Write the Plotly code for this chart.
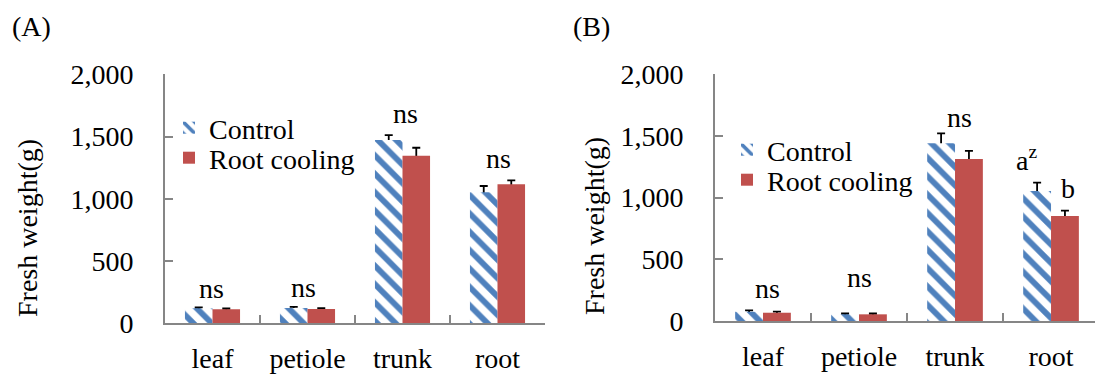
import plotly.graph_objects as go

# ---------------- data ----------------
categories = ["leaf", "petiole", "trunk", "root"]
y_ticks = [0, 500, 1000, 1500, 2000]

a_control = [120, 122, 1472, 1052]
a_control_err = [8, 10, 40, 51]
a_cooling = [112, 115, 1346, 1116]
a_cooling_err = [8, 6, 64, 32]

b_control = [75, 54, 1439, 1053]
b_control_err = [11, 8, 81, 67]
b_cooling = [67, 54, 1312, 850]
b_cooling_err = [9, 8, 65, 44]

series_names = ["Control", "Root cooling"]
panel_titles = ["(A)", "(B)"]
y_title = "Fresh weight(g)"

# significance labels: (category, which series it sits over, text, pixel lift, x shift)
a_sig = [("leaf", None, "ns", 19, -1), ("petiole", None, "ns", 19, -4),
         ("trunk", None, "ns", 22, 3), ("root", None, "ns", 22, 1)]
b_sig = [("leaf", None, "ns", 22, 4), ("petiole", None, "ns", 36, 0),
         ("trunk", None, "ns", 16, 4), ("root", 0, "a<sup>z</sup>", 24, -11),
         ("root", 1, "b", 22, 3)]

# ---------------- style ----------------
BLUE = "#4F81BD"
RED = "#C0504D"
AXIS = "#868686"
FONT = "'Liberation Serif', 'DejaVu Serif', 'Times New Roman', serif"
FS = 28
W, H = 1095, 374

fig = go.Figure()

panels = [
    dict(ctrl=a_control, ce=a_control_err, cool=a_cooling, cle=a_cooling_err,
         xa="x", ya="y", legs=("legend", "legend2"), sig=a_sig),
    dict(ctrl=b_control, ce=b_control_err, cool=b_cooling, cle=b_cooling_err,
         xa="x2", ya="y2", legs=("legend3", "legend4"), sig=b_sig),
]

def err(arr):
    return dict(type="data", array=arr, symmetric=True,
                color="black", thickness=1.8, width=4)

hatch = dict(color="white", line=dict(width=0),
             pattern=dict(shape="\\", fgcolor=BLUE, bgcolor="white",
                          fgopacity=1, size=13, solidity=0.45))
solid = dict(color=RED, line=dict(width=0))

for p in panels:
    # error bars first (carried by transparent bars), so the real bars hide
    # their lower half
    for vals, errs, grp in [(p["ctrl"], p["ce"], "c"), (p["cool"], p["cle"], "r")]:
        fig.add_trace(go.Bar(
            x=categories, y=vals, offsetgroup=grp, showlegend=False,
            marker=dict(color="rgba(0,0,0,0)", line=dict(width=0)),
            error_y=err(errs), xaxis=p["xa"], yaxis=p["ya"], hoverinfo="skip"))
    fig.add_trace(go.Bar(
        x=categories, y=p["ctrl"], name=series_names[0], offsetgroup="c",
        marker=hatch, xaxis=p["xa"], yaxis=p["ya"], legend=p["legs"][0]))
    fig.add_trace(go.Bar(
        x=categories, y=p["cool"], name=series_names[1], offsetgroup="r",
        marker=solid, xaxis=p["xa"], yaxis=p["ya"], legend=p["legs"][1]))

annotations = []
for p in panels:
    tops_c = [v + e for v, e in zip(p["ctrl"], p["ce"])]
    tops_r = [v + e for v, e in zip(p["cool"], p["cle"])]
    for cat, which, text, lift, xs in p["sig"]:
        i = categories.index(cat)
        if which is None:
            top = max(tops_c[i], tops_r[i])
            xshift = xs
        elif which == 0:
            top = tops_c[i]
            xshift = -14 + xs
        else:
            top = tops_r[i]
            xshift = 14 + xs
        annotations.append(dict(
            x=cat, y=top, xref=p["xa"], yref=p["ya"], text=text, showarrow=False,
            yanchor="middle", yshift=lift, xshift=xshift,
            font=dict(family=FONT, size=FS, color="black")))

# panel letters and y titles
for title, px, py in [(panel_titles[0], 31, 27), (panel_titles[1], 591, 27)]:
    annotations.append(dict(x=px / W, y=1 - py / H, xref="paper", yref="paper",
                            text=title, showarrow=False, xanchor="center",
                            yanchor="middle",
                            font=dict(family=FONT, size=FS, color="black")))
for px, py in [(27, 228), (594, 226)]:
    annotations.append(dict(x=px / W, y=1 - py / H, xref="paper", yref="paper",
                            text=y_title, showarrow=False, textangle=-90,
                            xanchor="center", yanchor="middle",
                            font=dict(family=FONT, size=FS, color="black")))

tickfont = dict(family=FONT, size=FS, color="black")

def xaxis(domain, rng, anchor):
    return dict(domain=domain, anchor=anchor, type="category", range=rng,
                tickson="boundaries", ticks="inside", ticklen=8, tickwidth=1.5,
                tickcolor=AXIS, showline=True, linecolor=AXIS, linewidth=1.8,
                showgrid=False, zeroline=False, tickfont=tickfont,
                ticklabelstandoff=9, fixedrange=True, automargin=False)

def yaxis(domain, anchor):
    return dict(domain=domain, anchor=anchor, range=[0, 2000], tickvals=y_ticks,
                tickformat=",", ticks="inside", ticklen=8, tickwidth=1.5,
                tickcolor=AXIS, showline=True, linecolor=AXIS, linewidth=1.8,
                showgrid=False, zeroline=False, tickfont=tickfont,
                ticklabelstandoff=24, fixedrange=True, automargin=False)

def legend(px, py):
    return dict(x=px / W, y=1 - py / H, xanchor="left", yanchor="middle",
                font=dict(family=FONT, size=FS, color="black"),
                bgcolor="rgba(0,0,0,0)", itemwidth=30, tracegroupgap=0)

fig.update_layout(
    width=W, height=H, margin=dict(l=0, r=0, t=0, b=0, autoexpand=False),
    paper_bgcolor="white", plot_bgcolor="white",
    barmode="group", bargap=0.42, bargroupgap=0,
    showlegend=True,
    xaxis=xaxis([165 / W, 545 / W], [-0.5, 3.5], "y"),
    yaxis=yaxis([1 - 323.3 / H, 1 - 74.3 / H], "x"),
    xaxis2=xaxis([715 / W, 1.0], [-0.5, 3.458], "y2"),
    yaxis2=yaxis([1 - 321 / H, 1 - 74 / H], "x2"),
    legend=legend(169, 128),
    legend2=legend(169, 158),
    legend3=legend(727, 150),
    legend4=legend(727, 180),
    annotations=annotations,
)

fig.write_html("out.html")
